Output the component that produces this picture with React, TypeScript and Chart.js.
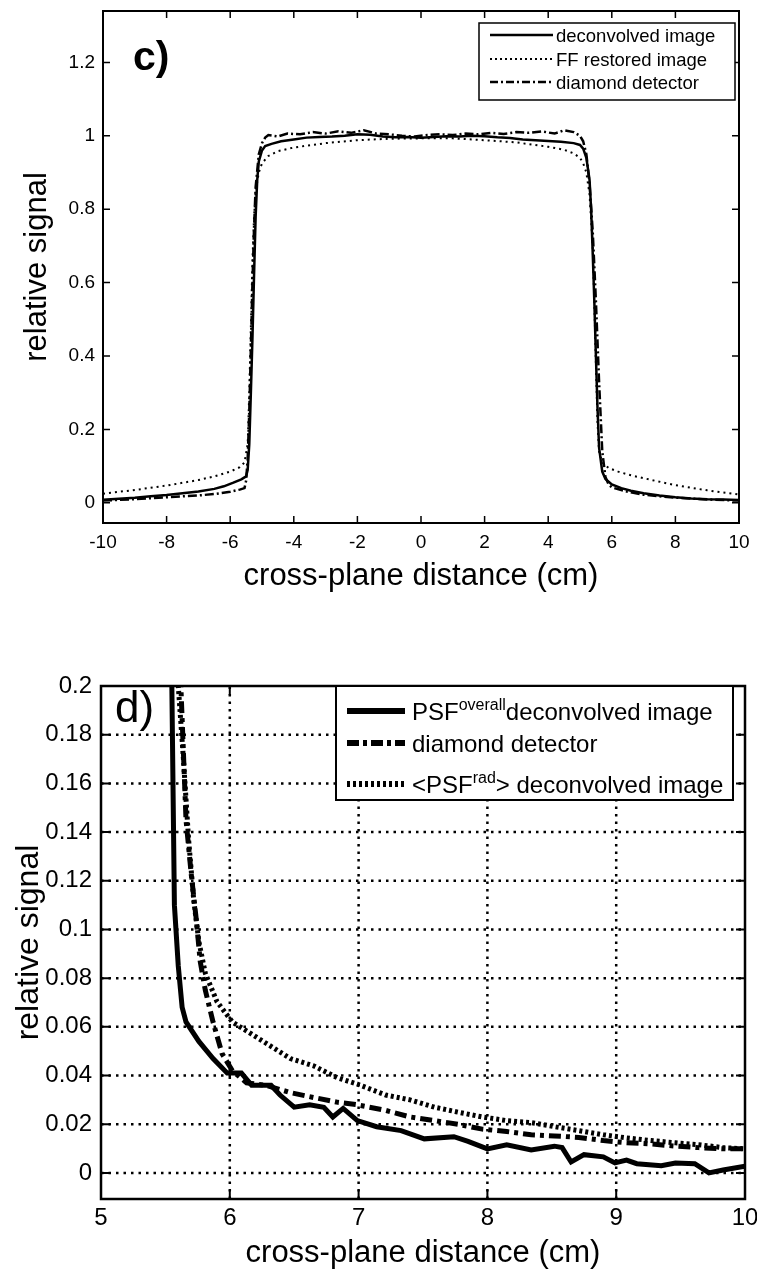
import React, { useEffect, useRef } from "react";
import { Chart, registerables } from "chart.js";

Chart.register(...registerables);

const FONT = "'Liberation Sans', Arial, Helvetica, sans-serif";

// ---------------- panel c) ----------------
const cXTicks = [-10, -8, -6, -4, -2, 0, 2, 4, 6, 8, 10];
const cYTicks = [0, 0.2, 0.4, 0.6, 0.8, 1, 1.2];
const cLabels = ["deconvolved image", "FF restored image", "diamond detector"];

const cDeconvolved: [number, number][] = [
  [-10, 0.008], [-9.5, 0.011], [-9, 0.014], [-8.5, 0.018], [-8, 0.021], [-7.5, 0.026], [-7, 0.031],
  [-6.5, 0.038], [-6.2, 0.045], [-5.9, 0.055], [-5.65, 0.064], [-5.5, 0.072], [-5.45, 0.09],
  [-5.4, 0.16], [-5.35, 0.3], [-5.3, 0.45], [-5.25, 0.62], [-5.2, 0.78], [-5.15, 0.88], [-5.1, 0.93],
  [-5.0, 0.96], [-4.9, 0.972], [-4.7, 0.978], [-4.4, 0.985], [-4.0, 0.99], [-3.6, 0.995], [-3.2, 0.997],
  [-2.8, 0.998], [-2.4, 1.0], [-2.0, 1.004], [-1.6, 1.003], [-1.2, 0.998], [-0.8, 0.996], [-0.4, 0.997],
  [0, 0.995], [0.4, 0.997], [0.8, 0.999], [1.2, 0.998], [1.6, 1.0], [2.0, 0.999], [2.4, 0.996],
  [2.8, 0.994], [3.2, 0.99], [3.6, 0.988], [4.0, 0.986], [4.4, 0.984], [4.8, 0.98], [5.0, 0.975],
  [5.1, 0.965], [5.2, 0.94], [5.3, 0.88], [5.35, 0.8], [5.4, 0.68], [5.45, 0.55], [5.5, 0.4],
  [5.55, 0.26], [5.6, 0.15], [5.7, 0.085], [5.8, 0.065], [6.0, 0.05], [6.3, 0.04], [6.6, 0.033],
  [7.0, 0.026], [7.5, 0.02], [8.0, 0.015], [8.5, 0.012], [9.0, 0.01], [9.5, 0.009], [10, 0.008],
];

const cFFRestored: [number, number][] = [
  [-10, 0.025], [-9, 0.035], [-8, 0.047], [-7, 0.062], [-6.5, 0.072], [-6, 0.085], [-5.7, 0.097],
  [-5.55, 0.11], [-5.45, 0.16], [-5.4, 0.3], [-5.35, 0.48], [-5.3, 0.66], [-5.25, 0.78], [-5.2, 0.85],
  [-5.1, 0.9], [-5.0, 0.925], [-4.8, 0.945], [-4.5, 0.958], [-4, 0.968], [-3, 0.98], [-2, 0.988],
  [-1, 0.992], [0, 0.993], [1, 0.993], [2, 0.988], [3, 0.982], [4, 0.97], [4.5, 0.962], [4.8, 0.952],
  [5.0, 0.94], [5.1, 0.925], [5.2, 0.9], [5.3, 0.84], [5.4, 0.7], [5.45, 0.55], [5.5, 0.38],
  [5.55, 0.22], [5.6, 0.14], [5.7, 0.11], [5.9, 0.095], [6.2, 0.085], [6.6, 0.075], [7, 0.067],
  [8, 0.048], [9, 0.034], [10, 0.023],
];

const cDiamond: [number, number][] = [
  [-10, 0.006], [-9, 0.01], [-8, 0.015], [-7, 0.02], [-6.5, 0.024], [-6, 0.03], [-5.7, 0.036],
  [-5.55, 0.04], [-5.5, 0.06], [-5.45, 0.12], [-5.4, 0.25], [-5.35, 0.42], [-5.3, 0.6], [-5.25, 0.75],
  [-5.2, 0.86], [-5.1, 0.95], [-5.0, 0.98], [-4.9, 0.995], [-4.8, 1.002], [-4.5, 0.998], [-4.2, 1.006],
  [-3.8, 1.004], [-3.4, 1.01], [-3.0, 1.006], [-2.6, 1.012], [-2.2, 1.008], [-1.8, 1.015], [-1.4, 1.006],
  [-1.0, 1.004], [-0.6, 1.0], [-0.2, 0.998], [0.2, 1.002], [0.6, 1.004], [1.0, 1.002], [1.4, 1.006],
  [1.8, 1.004], [2.2, 1.008], [2.6, 1.005], [3.0, 1.01], [3.4, 1.008], [3.8, 1.012], [4.2, 1.006],
  [4.5, 1.015], [4.8, 1.01], [5.0, 1.0], [5.1, 0.985], [5.2, 0.95], [5.3, 0.87], [5.4, 0.74],
  [5.5, 0.55], [5.6, 0.33], [5.7, 0.14], [5.8, 0.07], [5.9, 0.05], [6.0, 0.042], [6.5, 0.03],
  [7, 0.022], [8, 0.014], [9, 0.009], [10, 0.006],
];

// ---------------- panel d) ----------------
const dXTicks = [5, 6, 7, 8, 9, 10];
const dYTicks = [0, 0.02, 0.04, 0.06, 0.08, 0.1, 0.12, 0.14, 0.16, 0.18, 0.2];
const dLabels = [
  "PSF^{overall}deconvolved image",
  "diamond detector",
  "<PSF^{rad}> deconvolved image",
];

const dOverallX = [5.5, 5.55, 5.57, 5.6, 5.63, 5.66, 5.76, 5.87, 5.98, 6.09, 6.17, 6.32, 6.39, 6.5, 6.62, 6.73, 6.8, 6.88, 6.99, 7.14, 7.33, 7.51, 7.74, 7.85, 8.0, 8.15, 8.34, 8.52, 8.58, 8.65, 8.75, 8.9, 8.99, 9.08, 9.16, 9.35, 9.46, 9.61, 9.72, 9.83, 10.0];
const dOverallY = [0.5, 0.2, 0.11, 0.085, 0.068, 0.062, 0.054, 0.047, 0.041, 0.041, 0.036, 0.036, 0.032, 0.027, 0.028, 0.027, 0.023, 0.0265, 0.0215, 0.019, 0.0174, 0.014, 0.0149, 0.013, 0.0099, 0.0116, 0.0094, 0.011, 0.0104, 0.0045, 0.0075, 0.0066, 0.0041, 0.0053, 0.0038, 0.003, 0.0041, 0.0038, 0.0, 0.0012, 0.0028];

const dDiamondX = [5.55, 5.6, 5.62, 5.66, 5.7, 5.74, 5.77, 5.81, 5.87, 5.94, 6.02, 6.13, 6.28, 6.47, 6.65, 6.84, 6.99, 7.21, 7.4, 7.59, 7.77, 7.96, 8.15, 8.34, 8.52, 8.71, 8.9, 9.08, 9.27, 9.46, 9.64, 9.83, 10.0];
const dDiamondY = [0.45, 0.24, 0.2, 0.145, 0.123, 0.104, 0.087, 0.075, 0.062, 0.049, 0.042, 0.037, 0.036, 0.033, 0.031, 0.029, 0.028, 0.0257, 0.023, 0.0215, 0.02, 0.018, 0.017, 0.0157, 0.0152, 0.0146, 0.0133, 0.0124, 0.0119, 0.011, 0.0104, 0.0099, 0.0099];

const dRadX = [5.55, 5.6, 5.64, 5.68, 5.72, 5.76, 5.81, 5.9, 6.02, 6.17, 6.32, 6.47, 6.65, 6.84, 6.99, 7.21, 7.4, 7.59, 7.77, 7.96, 8.15, 8.34, 8.52, 8.71, 8.9, 9.08, 9.27, 9.46, 9.64, 9.83, 10.0];
const dRadY = [0.4, 0.2, 0.17, 0.137, 0.112, 0.095, 0.082, 0.0704, 0.062, 0.057, 0.052, 0.047, 0.044, 0.039, 0.0365, 0.032, 0.03, 0.027, 0.025, 0.023, 0.0215, 0.0207, 0.019, 0.0174, 0.0157, 0.0144, 0.0133, 0.0124, 0.0116, 0.0104, 0.0099];

// ---------------- helpers ----------------
const fromPairs = (p: [number, number][]) => p.map(([x, y]) => ({ x, y }));
const fromXY = (xs: number[], ys: number[]) => xs.map((x, i) => ({ x, y: ys[i] }));
const fmt = (v: any) => String(parseFloat(Number(v).toFixed(4)));

const matlabAxes = {
  id: "matlabAxes",
  beforeDatasetsDraw(chart: any, _args: any, o: any) {
    if (!o.grid) return;
    const { ctx, chartArea: a } = chart;
    const xs = chart.scales.x;
    const ys = chart.scales.y;
    ctx.save();
    ctx.strokeStyle = "#000";
    ctx.lineWidth = o.gridWidth;
    ctx.setLineDash(o.gridDash);
    ctx.beginPath();
    for (const v of o.xTicks) {
      const p = xs.getPixelForValue(v);
      if (p <= a.left + 2 || p >= a.right - 2) continue;
      ctx.moveTo(p, a.bottom);
      ctx.lineTo(p, a.top);
    }
    for (const v of o.yTicks) {
      const p = ys.getPixelForValue(v);
      if (p <= a.top + 2 || p >= a.bottom - 2) continue;
      ctx.moveTo(a.left, p);
      ctx.lineTo(a.right, p);
    }
    ctx.stroke();
    ctx.restore();
  },
  afterDatasetsDraw(chart: any, _args: any, o: any) {
    const { ctx, chartArea: a } = chart;
    const xs = chart.scales.x;
    const ys = chart.scales.y;
    ctx.save();
    ctx.setLineDash([]);
    ctx.strokeStyle = "#000";
    // tick marks, inside, on all four sides
    ctx.lineWidth = o.tickWidth;
    ctx.beginPath();
    for (const v of o.xTicks) {
      const p = xs.getPixelForValue(v);
      ctx.moveTo(p, a.bottom);
      ctx.lineTo(p, a.bottom - o.tickLen);
      ctx.moveTo(p, a.top);
      ctx.lineTo(p, a.top + o.tickLen);
    }
    for (const v of o.yTicks) {
      const p = ys.getPixelForValue(v);
      ctx.moveTo(a.left, p);
      ctx.lineTo(a.left + o.tickLen, p);
      ctx.moveTo(a.right, p);
      ctx.lineTo(a.right - o.tickLen, p);
    }
    ctx.stroke();
    // axes box
    ctx.lineWidth = o.frameWidth;
    ctx.strokeRect(a.left, a.top, a.right - a.left, a.bottom - a.top);

    // panel label
    ctx.fillStyle = "#000";
    ctx.textAlign = "left";
    ctx.textBaseline = "alphabetic";
    ctx.font = o.panelFont;
    ctx.fillText(o.panelText, a.left + o.panelDx, a.top + o.panelDy);

    // legend
    const L = o.legend;
    const x2 = a.right - L.right;
    const x1 = x2 - L.width;
    const y1 = a.top + L.top;
    ctx.fillStyle = "#fff";
    ctx.fillRect(x1, y1, L.width, L.height);
    ctx.lineWidth = L.border;
    ctx.strokeStyle = "#000";
    ctx.strokeRect(x1, y1, L.width, L.height);
    chart.data.datasets.forEach((ds: any, i: number) => {
      const yy = y1 + L.rows[i];
      ctx.save();
      ctx.setLineDash(L.sampleDash[i]);
      ctx.lineWidth = L.sampleWidth[i];
      ctx.beginPath();
      ctx.moveTo(x1 + L.sampleX0, yy);
      ctx.lineTo(x1 + L.sampleX1, yy);
      ctx.stroke();
      ctx.restore();
      let tx = x1 + L.textX;
      const parts = String(ds.label).split(/\^\{([^}]*)\}/);
      parts.forEach((p: string, k: number) => {
        if (!p) return;
        const sup = k % 2 === 1;
        ctx.font = `${sup ? L.supSize : L.size}px ${FONT}`;
        ctx.fillStyle = "#000";
        ctx.fillText(p, tx, yy + L.size * 0.36 - (sup ? L.supRise : 0));
        tx += ctx.measureText(p).width;
      });
    });
    ctx.restore();
  },
};

function PanelC() {
  const ref = useRef<HTMLCanvasElement>(null);
  useEffect(() => {
    const chart = new Chart(ref.current as HTMLCanvasElement, {
      type: "line",
      data: {
        datasets: [
          { label: cLabels[0], data: fromPairs(cDeconvolved), borderColor: "#000", borderWidth: 2.5, pointRadius: 0, borderDash: [] },
          { label: cLabels[1], data: fromPairs(cFFRestored), borderColor: "#000", borderWidth: 2, pointRadius: 0, borderDash: [2, 4] },
          { label: cLabels[2], data: fromPairs(cDiamond), borderColor: "#000", borderWidth: 2.5, pointRadius: 0, borderDash: [9, 3, 2, 3] },
        ],
      } as any,
      options: {
        responsive: false,
        animation: false,
        events: [],
        layout: { padding: { left: 0, right: 18, top: 11, bottom: 0 } },
        datasets: { line: { clip: 0 } } as any,
        scales: {
          x: {
            type: "linear",
            min: -10,
            max: 10,
            afterBuildTicks: (s: any) => { s.ticks = cXTicks.map((v) => ({ value: v })); },
            afterFit: (s: any) => { s.height = 97; s.paddingLeft = 0; s.paddingRight = 0; },
            grid: { display: false, drawTicks: false },
            border: { display: false },
            ticks: { color: "#000", font: { family: FONT, size: 19 }, padding: 8, maxRotation: 0, autoSkip: false, callback: fmt },
            title: { display: true, text: "cross-plane distance (cm)", color: "#000", font: { family: FONT, size: 31, lineHeight: 1 }, padding: { top: 0, bottom: 28 } },
          } as any,
          y: {
            type: "linear",
            min: -0.055,
            max: 1.34,
            afterBuildTicks: (s: any) => { s.ticks = cYTicks.map((v) => ({ value: v })); },
            afterFit: (s: any) => { s.width = 103; s.paddingTop = 0; s.paddingBottom = 0; },
            grid: { display: false, drawTicks: false },
            border: { display: false },
            ticks: { color: "#000", font: { family: FONT, size: 19 }, padding: 8, autoSkip: false, callback: fmt },
            title: { display: true, text: "relative signal", color: "#000", font: { family: FONT, size: 31, lineHeight: 1 }, padding: { top: 22, bottom: 0 } },
          } as any,
        },
        plugins: {
          legend: { display: false },
          tooltip: { enabled: false },
          matlabAxes: {
            grid: false,
            xTicks: cXTicks,
            yTicks: cYTicks,
            tickLen: 7,
            tickWidth: 1.5,
            frameWidth: 2,
            panelText: "c)",
            panelFont: `bold 41px ${FONT}`,
            panelDx: 30,
            panelDy: 59,
            legend: {
              right: 4, top: 12, width: 256, height: 77, border: 1.5,
              rows: [12, 36, 59],
              sampleX0: 11, sampleX1: 74, textX: 77,
              sampleDash: [[], [2, 3], [8, 3, 2, 3]],
              sampleWidth: [2.5, 2, 2.5],
              size: 18.5, supSize: 12, supRise: 7,
            },
          },
        } as any,
      },
      plugins: [matlabAxes as any],
    });
    return () => chart.destroy();
  }, []);
  return <canvas ref={ref} width={757} height={620} style={{ display: "block", position: "absolute", left: 0, top: 0 }} />;
}

function PanelD() {
  const ref = useRef<HTMLCanvasElement>(null);
  useEffect(() => {
    const chart = new Chart(ref.current as HTMLCanvasElement, {
      type: "line",
      data: {
        datasets: [
          { label: dLabels[0], data: fromXY(dOverallX, dOverallY), borderColor: "#000", borderWidth: 5, pointRadius: 0, borderDash: [] },
          { label: dLabels[1], data: fromXY(dDiamondX, dDiamondY), borderColor: "#000", borderWidth: 5, pointRadius: 0, borderDash: [12, 5, 4, 5] },
          { label: dLabels[2], data: fromXY(dRadX, dRadY), borderColor: "#000", borderWidth: 5, pointRadius: 0, borderDash: [3, 3] },
        ],
      } as any,
      options: {
        responsive: false,
        animation: false,
        events: [],
        layout: { padding: { left: 0, right: 12, top: 46, bottom: 0 } },
        datasets: { line: { clip: 0 } } as any,
        scales: {
          x: {
            type: "linear",
            min: 5,
            max: 10,
            afterBuildTicks: (s: any) => { s.ticks = dXTicks.map((v) => ({ value: v })); },
            afterFit: (s: any) => { s.height = 72; s.paddingLeft = 0; s.paddingRight = 0; },
            grid: { display: false, drawTicks: false },
            border: { display: false },
            ticks: { color: "#000", font: { family: FONT, size: 24 }, padding: 5, maxRotation: 0, autoSkip: false, callback: fmt },
            title: { display: true, text: "cross-plane distance (cm)", color: "#000", font: { family: FONT, size: 31, lineHeight: 1 }, padding: { top: 0, bottom: 2 } },
          } as any,
          y: {
            type: "linear",
            min: -0.0107,
            max: 0.2,
            afterBuildTicks: (s: any) => { s.ticks = dYTicks.map((v) => ({ value: v })); },
            afterFit: (s: any) => { s.width = 101; s.paddingTop = 0; s.paddingBottom = 0; },
            grid: { display: false, drawTicks: false },
            border: { display: false },
            ticks: { color: "#000", font: { family: FONT, size: 24 }, padding: 9, autoSkip: false, callback: fmt },
            title: { display: true, text: "relative signal", color: "#000", font: { family: FONT, size: 32, lineHeight: 1 }, padding: { top: 13, bottom: 0 } },
          } as any,
        },
        plugins: {
          legend: { display: false },
          tooltip: { enabled: false },
          matlabAxes: {
            grid: true,
            gridWidth: 2.5,
            gridDash: [2.5, 5],
            xTicks: dXTicks,
            yTicks: dYTicks,
            tickLen: 9,
            tickWidth: 2,
            frameWidth: 2.5,
            panelText: "d)",
            panelFont: `44px ${FONT}`,
            panelDx: 14,
            panelDy: 36,
            legend: {
              right: 12, top: 0, width: 397, height: 114, border: 2,
              rows: [25, 57, 98],
              sampleX0: 11, sampleX1: 69, textX: 76,
              sampleDash: [[], [12, 4, 4, 4], [3, 3]],
              sampleWidth: [6, 6, 6],
              size: 24, supSize: 16, supRise: 10,
            },
          },
        } as any,
      },
      plugins: [matlabAxes as any],
    });
    return () => chart.destroy();
  }, []);
  return <canvas ref={ref} width={757} height={631} style={{ display: "block", position: "absolute", left: 0, top: 640 }} />;
}

export default function App() {
  return (
    <div style={{ position: "absolute", left: 0, top: 0, width: 757, height: 1271, background: "#fff", overflow: "hidden" }}>
      <PanelC />
      <PanelD />
    </div>
  );
}
